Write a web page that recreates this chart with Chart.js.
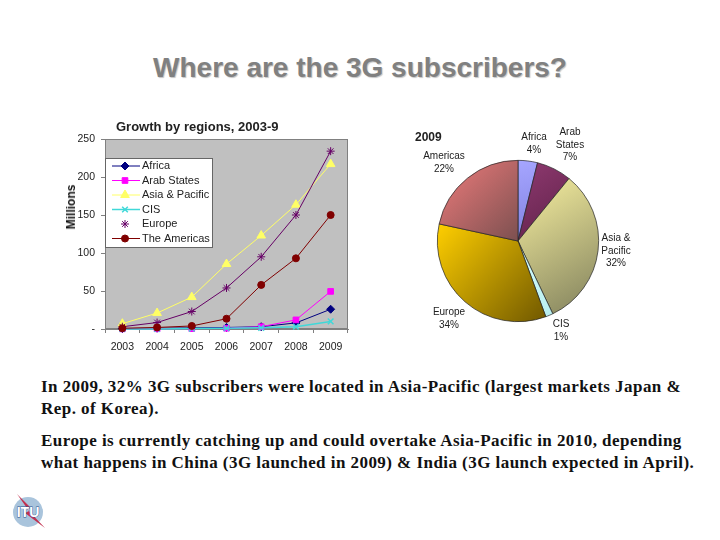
<!DOCTYPE html>
<html>
<head>
<meta charset="utf-8">
<script src="https://cdn.jsdelivr.net/npm/chart.js@4"></script>
<style>
body { margin: 0; background: #fff; }
#page { position: relative; width: 720px; height: 540px; overflow: hidden; }
canvas { position: absolute; }
.txt { position: absolute; white-space: nowrap; }
.sans { font-family: "Liberation Sans", Arial, sans-serif; color: #222; }
.lbl { font-size: 10px; line-height: 12.5px; text-align: center; transform: translateX(-50%); }
.body { font: bold 17px "Liberation Serif", "Times New Roman", serif; color: #111; left: 41px; letter-spacing: 0.45px; }
#title { left: 0; width: 720px; top: 52px; text-align: center; font: bold 28px "Liberation Sans", Arial, sans-serif; color: #808080; text-shadow: 1px 1px 1px #c4c4c4; }
</style>
</head>
<body>
<div id="page">
  <div id="title" class="txt">Where are the 3G subscribers?</div>
  <canvas id="growthChart" width="300" height="250" style="left:60px;top:110px"></canvas>
  <canvas id="shareChart" width="250" height="235" style="left:400px;top:115px"></canvas>
  <div class="txt sans" style="left:116px;top:119px;font-weight:bold;font-size:13px">Growth by regions, 2003-9</div>
  <div class="txt sans" style="left:71px;top:207px;font-weight:bold;font-size:12px;color:#111;transform:translate(-50%,-50%) rotate(-90deg)">Millions</div>
  <div class="txt sans" style="left:415px;top:130px;font-weight:bold;font-size:12px">2009</div>
  <div class="txt body" style="top:377px">In 2009, 32% 3G subscribers were located in Asia-Pacific (largest markets Japan &amp;</div>
  <div class="txt body" style="top:399px">Rep. of Korea).</div>
  <div class="txt body" style="top:431px">Europe is currently catching up and could overtake Asia-Pacific in 2010, depending</div>
  <div class="txt body" style="top:453px">what happens in China (3G launched in 2009) &amp; India (3G launch expected in April).</div>
  <svg style="position:absolute;left:8px;top:488px" width="44" height="46" viewBox="8 488 44 46">
    <circle cx="28" cy="512" r="15" fill="#a9c4dc"/>
    <path d="M17 494 L31 508 L27 509 L45 528 L25 513 L29 511 Z" fill="#c2304e"/>
    <text x="28" y="517" text-anchor="middle" font-family="Liberation Sans" font-weight="bold" font-size="14" fill="#fff" stroke="#1f4f8f" stroke-width="0.8" paint-order="stroke">ITU</text>
  </svg>
</div>
<script>
// Growth by regions
var years = ['2003', '2004', '2005', '2006', '2007', '2008', '2009'];
var africa = [0.5, 1, 1.5, 2, 3, 8, 26];
var arabStates = [0.2, 0.3, 0.5, 1, 3, 12, 49.5];
var asiaPacific = [7, 21, 42, 85.5, 123, 163.5, 217];
var cis = [0, 0, 0.5, 1, 1.5, 3, 10];
var europe = [3, 8.5, 23, 54, 95, 150, 234];
var americas = [1, 2, 4, 13.5, 58, 93, 150];
var yTicks = [0, 50, 100, 150, 200, 250];

// 2009 pie, drawn clockwise from the top
var pieRegions = ['Africa', 'Arab States', 'Asia & Pacific', 'CIS', 'Europe', 'Americas'];
var pieShares = [3.9, 7, 32, 1.5, 34, 21.6];
var pieText = ['4%', '7%', '32%', '1%', '34%', '22%'];
var pieLight = ['#a6a6ff', '#8f3a70', '#f8f0a0', '#d8ffff', '#ffcf00', '#f07c7c'];
var pieDark = ['#8080e0', '#5e2048', '#80805c', '#b8eeee', '#705800', '#7c5050'];

var F = '"Liberation Sans", Arial, sans-serif';

function series(label, data, color, style, size, order, width) {
    return {
        label: label, data: data, borderColor: color, backgroundColor: color,
        pointStyle: style, pointRadius: size, pointBorderColor: color, pointBackgroundColor: color,
        borderWidth: width || 1, pointBorderWidth: width || 1, tension: 0, clip: false, order: order
    };
}

var plotBack = {
    id: 'plotBack',
    beforeDraw: function (chart) {
        var a = chart.chartArea, c = chart.ctx;
        c.fillStyle = '#c0c0c0';
        c.fillRect(a.left, a.top, a.width, a.height);
        c.strokeStyle = '#808080';
        c.lineWidth = 1;
        c.strokeRect(a.left + 0.5, a.top + 0.5, a.width - 1, a.height - 1);
    }
};

// legend sits inside the plot, Chart.js cannot place it there
var insideLegend = {
    id: 'insideLegend',
    afterDraw: function (chart) {
        var a = chart.chartArea, c = chart.ctx;
        var top = a.top + 19, rowH = 14.5;
        c.save();
        c.fillStyle = '#fff';
        c.fillRect(a.left, top, 107, 89);
        c.strokeStyle = '#666';
        c.lineWidth = 1;
        c.strokeRect(a.left + 0.5, top + 0.5, 107, 89);
        c.font = '11px ' + F;
        c.textBaseline = 'middle';
        chart.data.datasets.forEach(function (ds, i) {
            var y = top + 8 + i * rowH;
            c.lineWidth = ds.borderWidth;
            if (ds.label !== 'Europe') {
                c.strokeStyle = ds.borderColor;
                c.beginPath();
                c.moveTo(a.left + 7, y);
                c.lineTo(a.left + 35, y);
                c.stroke();
            }
            c.fillStyle = ds.pointBackgroundColor;
            c.strokeStyle = ds.pointBorderColor;
            Chart.helpers.drawPoint(c, { pointStyle: ds.pointStyle, radius: ds.pointRadius, borderWidth: ds.pointBorderWidth, rotation: 0 }, a.left + 20, y);
            c.fillStyle = '#222';
            c.fillText(ds.label, a.left + 37, y);
        });
        c.restore();
    }
};

new Chart(document.getElementById('growthChart').getContext('2d'), {
    type: 'line',
    data: {
        labels: years,
        datasets: [
            series('Africa', africa, '#000080', 'rectRot', 4, 6),
            series('Arab States', arabStates, '#ff00ff', 'rect', 4, 5),
            series('Asia & Pacific', asiaPacific, '#ffff66', 'triangle', 5, 4),
            series('CIS', cis, '#40d8d8', 'crossRot', 4, 3, 1.5),
            series('Europe', europe, '#660066', 'star', 4, 2),
            series('The Americas', americas, '#800000', 'circle', 3.5, 1)
        ]
    },
    options: {
        responsive: false,
        animation: false,
        layout: { padding: { top: 29, right: 12, left: 0, bottom: 0 } },
        plugins: { legend: { display: false }, tooltip: { enabled: false } },
        scales: {
            x: {
                offset: true,
                grid: { display: true, drawOnChartArea: false, color: '#808080', tickLength: 4, offset: true },
                border: { color: '#808080' },
                ticks: { color: '#222', font: { family: F, size: 10.5 }, padding: 8, maxRotation: 0 },
                afterFit: function (s) { s.height = 31; }
            },
            y: {
                min: 0, max: 250,
                afterBuildTicks: function (s) { s.ticks = yTicks.map(function (v) { return { value: v }; }); },
                grid: { display: true, drawOnChartArea: false, color: '#808080', tickLength: 4 },
                border: { color: '#808080' },
                ticks: {
                    color: '#222', font: { family: F, size: 10.5 }, padding: 6,
                    callback: function (v) { return v === 0 ? '-' : v; }
                },
                afterFit: function (s) { s.width = 45; }
            }
        }
    },
    plugins: [plotBack, insideLegend]
});

// diagonal shade across each slice's own bounding box
function sliceShade(context) {
    var chart = context.chart, a = chart.chartArea, i = context.dataIndex;
    if (!a) return pieLight[i];
    var total = pieShares.reduce(function (s, v) { return s + v; }, 0);
    var before = pieShares.slice(0, i).reduce(function (s, v) { return s + v; }, 0);
    var start = before / total * 2 * Math.PI, end = (before + pieShares[i]) / total * 2 * Math.PI;
    var cx = (a.left + a.right) / 2, cy = (a.top + a.bottom) / 2, r = Math.min(a.width, a.height) / 2;
    var xs = [cx], ys = [cy];
    for (var k = 0; k <= 24; k++) {
        var t = start + (end - start) * k / 24;
        xs.push(cx + r * Math.sin(t));
        ys.push(cy - r * Math.cos(t));
    }
    var g = chart.ctx.createLinearGradient(Math.min.apply(null, xs), Math.min.apply(null, ys), Math.max.apply(null, xs), Math.max.apply(null, ys));
    g.addColorStop(0, pieLight[i]);
    g.addColorStop(1, pieDark[i]);
    return g;
}

new Chart(document.getElementById('shareChart').getContext('2d'), {
    type: 'pie',
    data: {
        labels: pieRegions,
        datasets: [{ data: pieShares, backgroundColor: sliceShade, borderColor: '#222', borderWidth: 0.7 }]
    },
    options: {
        responsive: false,
        animation: false,
        layout: { padding: { left: 37, right: 51, top: 45, bottom: 28 } },
        plugins: { legend: { display: false }, tooltip: { enabled: false } }
    }
});

// pie labels, same order as pieRegions
var labelLines = [['Africa'], ['Arab', 'States'], ['Asia &', 'Pacific'], ['CIS'], ['Europe'], ['Americas']];
var labelSpots = [[534, 131], [570, 126], [616, 232], [561, 318], [449, 306], [444, 150]];
labelLines.forEach(function (lines, i) {
    var d = document.createElement('div');
    d.className = 'txt sans lbl';
    d.style.left = labelSpots[i][0] + 'px';
    d.style.top = labelSpots[i][1] + 'px';
    lines.concat(pieText[i]).forEach(function (line, n) {
        if (n) d.appendChild(document.createElement('br'));
        d.appendChild(document.createTextNode(line));
    });
    document.getElementById('page').appendChild(d);
});
</script>
</body>
</html>
